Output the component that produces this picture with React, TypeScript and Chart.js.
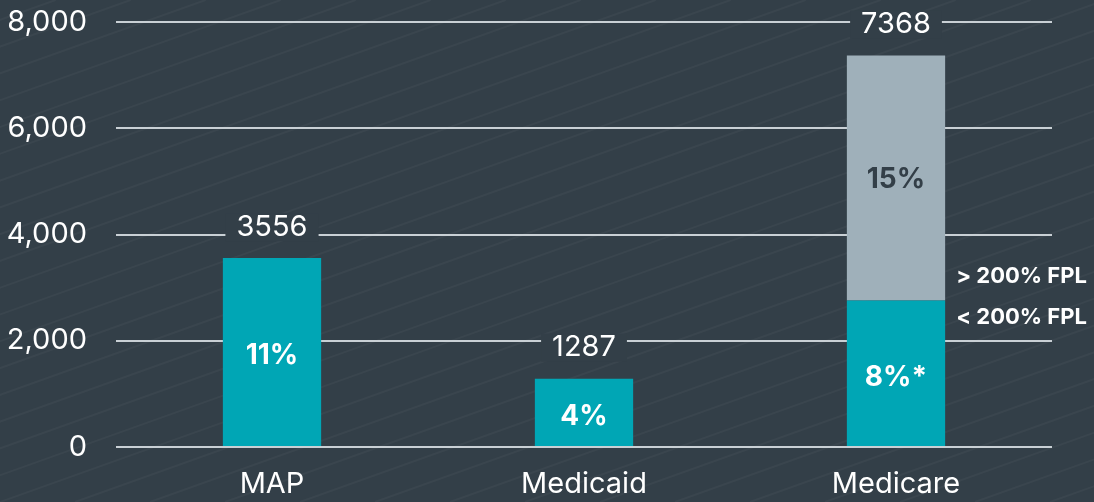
import React, { useEffect, useRef } from "react";
import { Chart, registerables } from "chart.js";

Chart.register(...registerables);

const categories = ["MAP", "Medicaid", "Medicare"];
const lowerValues = [3556, 1287, 2760];
const upperValues = [null, null, 4608];
const totalValues = [3556, 1287, 7368];
const lowerLabels = ["11%", "4%", "8%*"];
const upperLabels = ["", "", "15%"];
const fplLabels = ["> 200% FPL", "< 200% FPL"];
const yTickValues = [0, 2000, 4000, 6000, 8000];

const BG = "#333f48";
const TEAL = "#00a6b5";
const GREY = "#9fb0ba";
const FONT = "Inter, 'Liberation Sans', sans-serif";

const bgPlugin = {
  id: "bgStripes",
  beforeDraw(chart: any) {
    const { ctx, width, height } = chart;
    ctx.save();
    ctx.fillStyle = BG;
    ctx.fillRect(0, 0, width, height);
    ctx.strokeStyle = "rgba(255,255,255,0.035)";
    ctx.lineWidth = 2;
    for (let k = -20; k < 30; k++) {
      const x0 = k * 75;
      ctx.beginPath();
      ctx.moveTo(x0, height);
      ctx.lineTo(x0 + height * 2.8, 0);
      ctx.stroke();
    }
    ctx.restore();
  },
};

const labelPlugin = {
  id: "barLabels",
  afterDatasetsDraw(chart: any) {
    const { ctx } = chart;
    const yScale = chart.scales.y;
    const m0 = chart.getDatasetMeta(0);
    const m1 = chart.getDatasetMeta(1);
    ctx.save();
    ctx.textAlign = "center";
    ctx.textBaseline = "middle";
    categories.forEach((_, i) => {
      const b0 = m0.data[i];
      ctx.font = `bold 28px ${FONT}`;
      ctx.fillStyle = "#ffffff";
      if (lowerLabels[i]) ctx.fillText(lowerLabels[i], b0.x, (b0.y + b0.base) / 2 + 4);
      const b1 = m1.data[i];
      if (upperLabels[i] && b1) {
        ctx.fillStyle = BG;
        ctx.fillText(upperLabels[i], b1.x, (b1.y + b1.base) / 2 + 2);
      }
      const ty = yScale.getPixelForValue(totalValues[i]) - 31;
      ctx.font = `29px ${FONT}`;
      const txt = String(totalValues[i]);
      const w = ctx.measureText(txt).width;
      ctx.fillStyle = BG;
      ctx.fillRect(b0.x - w / 2 - 11, ty - 14, w + 22, 28);
      ctx.fillStyle = "#ffffff";
      ctx.fillText(txt, b0.x, ty);
    });
    const last = categories.length - 1;
    const bl = m0.data[last];
    const right = bl.x + bl.width / 2 + 11;
    ctx.textAlign = "left";
    ctx.font = `bold 22px ${FONT}`;
    ctx.fillStyle = "#ffffff";
    ctx.fillText(fplLabels[0], right, bl.y - 24);
    ctx.fillText(fplLabels[1], right, bl.y + 17);
    ctx.restore();
  },
};

export default function App() {
  const ref = useRef<HTMLCanvasElement>(null);
  useEffect(() => {
    document.body.style.margin = "0";
    const chart = new Chart(ref.current as HTMLCanvasElement, {
      type: "bar",
      data: {
        labels: categories,
        datasets: [
          { data: lowerValues, backgroundColor: TEAL, barPercentage: 0.315, categoryPercentage: 1 },
          { data: upperValues as any, backgroundColor: GREY, barPercentage: 0.315, categoryPercentage: 1 },
        ],
      },
      options: {
        animation: false,
        responsive: false,
        maintainAspectRatio: false,
        layout: { padding: { left: 0, right: 42, top: 22, bottom: 0 } },
        plugins: { legend: { display: false }, tooltip: { enabled: false } },
        scales: {
          x: {
            stacked: true,
            grid: { display: false, drawTicks: false },
            border: { display: false },
            ticks: { color: "#ffffff", font: { family: FONT, size: 29 }, padding: 20 },
            afterFit(s: any) { s.height = 55; s.paddingLeft = 0; s.paddingRight = 0; },
          },
          y: {
            stacked: true,
            min: 0,
            max: 8000,
            afterBuildTicks(s: any) { s.ticks = yTickValues.map((v) => ({ value: v })); },
            grid: { color: "#c9d0d5", lineWidth: 2, drawTicks: false },
            border: { display: false },
            ticks: {
              color: "#ffffff",
              font: { family: FONT, size: 29 },
              padding: 29,
              callback: (v: any) => Number(v).toLocaleString("en-US"),
            },
            afterFit(s: any) { s.width = 116; s.paddingTop = 0; s.paddingBottom = 0; },
          },
        },
      },
      plugins: [bgPlugin, labelPlugin],
    });
    return () => chart.destroy();
  }, []);
  return (
    <div style={{ width: 1094, height: 502, background: BG }}>
      <canvas ref={ref} width={1094} height={502} style={{ display: "block" }} />
    </div>
  );
}
